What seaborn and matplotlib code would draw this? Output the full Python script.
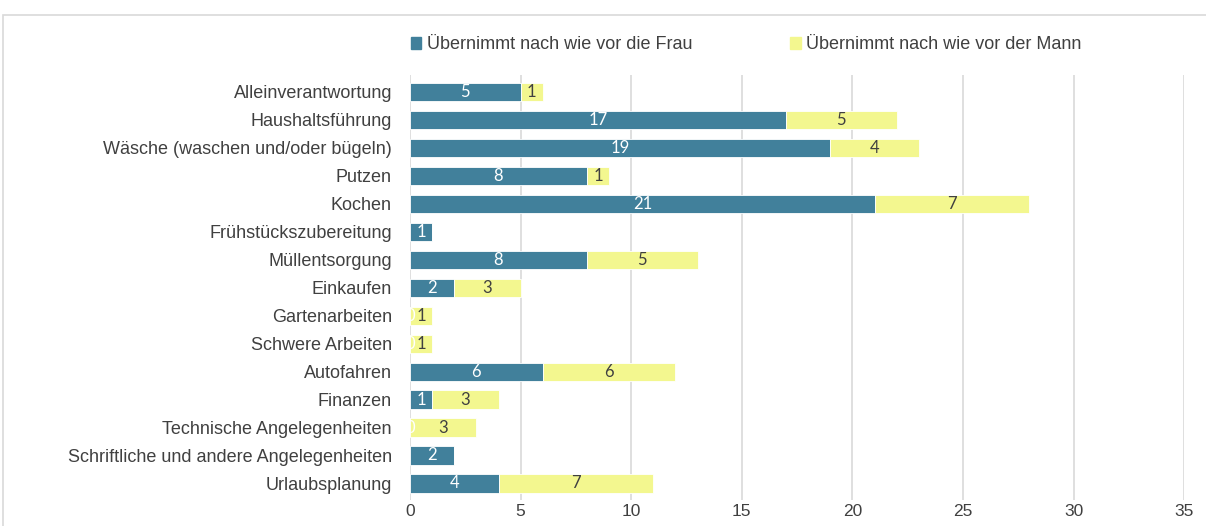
import matplotlib.pyplot as plt
import seaborn as sns
import pandas as pd
from matplotlib.patches import Rectangle

categories = [
    "Alleinverantwortung", "Haushaltsführung", "Wäsche (waschen und/oder bügeln)",
    "Putzen", "Kochen", "Frühstückszubereitung", "Müllentsorgung", "Einkaufen",
    "Gartenarbeiten", "Schwere Arbeiten", "Autofahren", "Finanzen",
    "Technische Angelegenheiten", "Schriftliche und andere Angelegenheiten", "Urlaubsplanung",
]
frau = [5, 17, 19, 8, 21, 1, 8, 2, 0, 0, 6, 1, 0, 2, 4]
mann = [1, 5, 4, 1, 7, 0, 5, 3, 1, 1, 6, 3, 3, 0, 7]
x_ticks = [0, 5, 10, 15, 20, 25, 30, 35]

teal = "#41809B"
yellow = "#F3F78F"
text_col = "#404040"

df = pd.DataFrame({"Tätigkeit": categories, "Frau": frau, "Mann": mann})

sns.set_theme(style="whitegrid")
plt.rcParams["font.family"] = ["Liberation Sans", "DejaVu Sans"]

fig = plt.figure(figsize=(12.06, 5.26), dpi=100)
ax = fig.add_axes([0.34, 0.049, 0.642, 0.808])

# outer border like the source frame
fig.patches.append(Rectangle((3 / 1206, -0.01), 1.0, 1 - 15 / 526 + 0.01,
                             transform=fig.transFigure, fill=False,
                             edgecolor="#D9D9D9", linewidth=1.2, zorder=0))

sns.barplot(data=df, x="Frau", y="Tätigkeit", color=teal, saturation=1, width=0.65,
            edgecolor="white", linewidth=0.6, ax=ax)
ax.barh(df["Tätigkeit"], df["Mann"], left=df["Frau"], height=0.65, color=yellow,
        edgecolor="white", linewidth=0.6)

frau_labels = [str(v) for v in frau]
mann_labels = [str(v) if v > 0 else "" for v in mann]
ax.bar_label(ax.containers[0], labels=frau_labels, label_type="center",
             color="white", fontsize=12, family="Lato")
ax.bar_label(ax.containers[1], labels=mann_labels, label_type="center",
             color=text_col, fontsize=12, family="Lato")

ax.set_xlim(0, 35)
ax.set_ylim(len(categories) - 0.4, -0.6)
ax.set_xticks(x_ticks)
ax.set_xlabel("")
ax.set_ylabel("")
ax.grid(axis="x", color="#D9D9D9", linewidth=1.2)
ax.grid(axis="y", visible=False)
for side in ["top", "right", "bottom", "left"]:
    ax.spines[side].set_visible(False)
ax.tick_params(axis="x", labelsize=12.5, colors=text_col, pad=3, length=0)
ax.tick_params(axis="y", labelsize=13, colors=text_col, pad=13, length=0)

fig.legend(handles=[Rectangle((0, 0), 1, 1, color=teal), Rectangle((0, 0), 1, 1, color=yellow)],
           labels=["Übernimmt nach wie vor die Frau", "Übernimmt nach wie vor der Mann"],
           loc="center left", bbox_to_anchor=(0.327, 0.915), ncol=2,
           frameon=False, fontsize=13, handlelength=0.6, handleheight=0.6,
           handletextpad=0.3, columnspacing=5.4, labelcolor=text_col)

fig.savefig("out.png", dpi=100, facecolor="white")
